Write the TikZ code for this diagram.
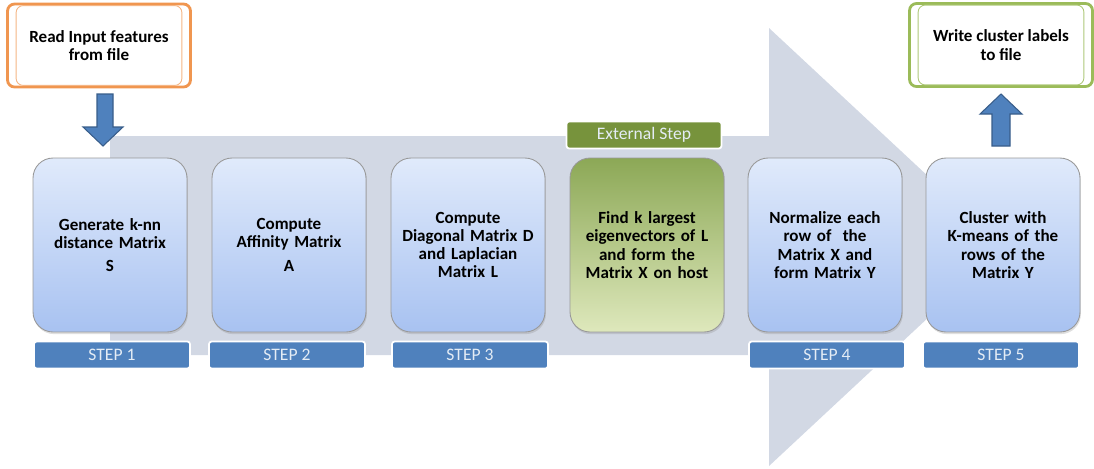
\documentclass[tikz,border=0pt]{standalone}
\usepackage{fontspec}
\setmainfont{Carlito}
\usetikzlibrary{calc,shadows}

\definecolor{flowgray}{RGB}{210,216,228}
\definecolor{boxtop}{RGB}{224,234,251}
\definecolor{boxbot}{RGB}{168,194,241}
\definecolor{greentop}{RGB}{140,168,86}
\definecolor{greenbot}{RGB}{222,232,188}
\definecolor{stepblue}{RGB}{79,129,189}
\definecolor{arrowline}{RGB}{56,93,138}
\definecolor{extgreen}{RGB}{119,147,60}
\definecolor{inorange}{RGB}{240,150,80}
\definecolor{outgreen}{RGB}{155,187,89}

\tikzset{
	taskbox/.style={rounded corners=0.4cm, minimum width=3.08cm, minimum height=3.48cm,
		draw=black!40, line width=0.5pt, top color=boxtop, bottom color=boxbot,
		text width=2.7cm, align=center, font=\bfseries\fontsize{9.7}{10.4}\selectfont,
		drop shadow={opacity=0.25, shadow xshift=0.5pt, shadow yshift=-1.2pt}},
	steptag/.style={fill=stepblue, draw=white, line width=1pt, rounded corners=1.5pt,
		minimum width=3.12cm, minimum height=0.54cm, text=white!85!stepblue,
		font=\fontsize{10}{11}\selectfont},
	filebox/.style={line width=1.6pt, fill=white, rounded corners=4pt,
		minimum width=3.66cm, minimum height=1.66cm, align=center,
		font=\bfseries\fontsize{9.7}{10.4}\selectfont},
	blockarrow/.style={fill=stepblue, draw=arrowline, line width=0.6pt}
}

\begin{document}
\begin{tikzpicture}[x=0.02cm, y=-0.02cm]
		%%%%% START %%%%%
		\useasboundingbox (0,0) rectangle (1094,468);
		
		% big flow arrow behind the steps
		\fill[flowgray] (110,136) -- (769,136) -- (769,28) -- (1004,247)
			-- (769,466) -- (769,355) -- (110,355) -- cycle;
		
		% steps
		\node[taskbox] (gen) at (110,245) {Generate k-nn\\distance Matrix\\[3pt]S};
		\node[taskbox] (aff) at (289,245) {Compute\\Affinity Matrix\\[3pt]A};
		\node[taskbox] (lap) at (468,245) {Compute\\Diagonal Matrix D\\and Laplacian\\Matrix L};
		\node[taskbox, top color=greentop, bottom color=greenbot] (eig) at (647,245)
			{Find k largest\\eigenvectors of L\\and form the\\Matrix X on host};
		\node[taskbox] (norm) at (825,245) {Normalize each\\row of~ the\\Matrix X and\\form Matrix Y};
		\node[taskbox] (clus) at (1003,245) {Cluster with\\K-means of the\\rows of the\\Matrix Y};
		
		% step tags
		\node[steptag] (tag1) at (112,355) {STEP 1};
		\node[steptag] (tag2) at (287,355) {STEP 2};
		\node[steptag] (tag3) at (470,355) {STEP 3};
		\node[steptag] (tag4) at (827,355) {STEP 4};
		\node[steptag] (tag5) at (1001,355) {STEP 5};
		\node[steptag, fill=extgreen, minimum width=3.1cm] (ext) at (644,135) {External Step};
		
		% input / output files
		\node[filebox, draw=inorange] (input) at (99,45.5) {Read Input features\\from file};
		\draw[inorange!70, line width=0.5pt, rounded corners=4pt]
			($(input.north west)+(10,3)$) rectangle ($(input.south east)+(-10,-3)$);
		\node[filebox, draw=outgreen] (output) at (1001,45) {Write cluster labels\\to file};
		\draw[outgreen!80, line width=0.5pt, rounded corners=4pt]
			($(output.north west)+(10,3)$) rectangle ($(output.south east)+(-10,-3)$);
		
		% block arrows
		\coordinate (intip) at (103,146);
		\coordinate (outtip) at (1001,94);
		\draw[blockarrow] (97,94) -- (113,94) -- (113,127) -- (123,127) -- (intip)
			-- (83,127) -- (97,127) -- cycle;
		\draw[blockarrow] (992,146) -- (1010,146) -- (1010,114) -- (1022,114) -- (outtip)
			-- (980,114) -- (992,114) -- cycle;
		
		%%%%% END %%%%%
\end{tikzpicture}
\end{document}
